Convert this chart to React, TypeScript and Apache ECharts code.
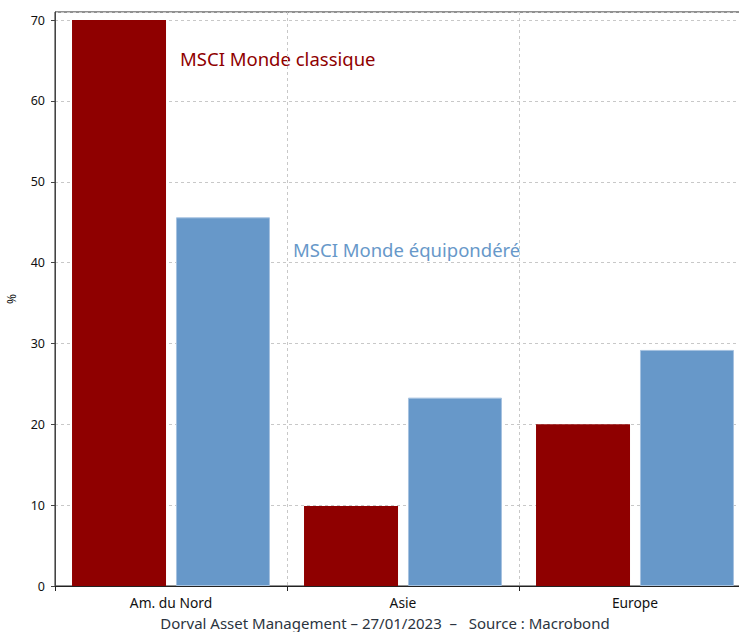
import React, { useEffect, useRef } from "react";
import * as echarts from "echarts";

const categories = ["Am. du Nord", "Asie", "Europe"];
const classiqueValues = [70.0, 9.9, 20.0];
const equiponderValues = [45.6, 23.3, 29.2];
const seriesNames = ["MSCI Monde classique", "MSCI Monde équipondéré"];
const footerText = "Dorval Asset Management – 27/01/2023  –   Source : Macrobond";

export default function App() {
  const ref = useRef<HTMLDivElement>(null);
  useEffect(() => {
    if (!ref.current) return;
    const chart = echarts.init(ref.current, null, { renderer: "svg" });
    const font = "Noto Sans";
    chart.setOption({
      animation: false,
      backgroundColor: "#ffffff",
      textStyle: { fontFamily: font },
      grid: {
        left: 55,
        top: 12,
        height: 574,
        width: 696,
        outerBoundsMode: "none",
        containLabel: false,
        show: true,
        borderColor: "#222",
        borderWidth: 1,
      },
      xAxis: {
        type: "category",
        data: categories,
        boundaryGap: true,
        axisLine: { lineStyle: { color: "#222", width: 1 } },
        axisTick: { show: true, length: 5, lineStyle: { color: "#222" } },
        axisLabel: { color: "#111", fontSize: 13.8, margin: 9, fontFamily: font },
        splitLine: { show: true, lineStyle: { color: "#c8c8c8", type: [3, 3] } },
      },
      yAxis: {
        type: "value",
        min: 0,
        max: 71,
        interval: 10,
        name: "%",
        nameLocation: "middle",
        nameGap: 38,
        nameRotate: 90,
        nameTextStyle: { color: "#111", fontSize: 12, fontFamily: font },
        axisLine: { show: true, lineStyle: { color: "#444", width: 1 } },
        axisTick: { show: true, length: 4, lineStyle: { color: "#444" } },
        axisLabel: { color: "#111", fontSize: 12.5, margin: 10, showMaxLabel: false, fontFamily: font },
        splitLine: { show: true, lineStyle: { color: "#c8c8c8", type: [3, 3] } },
      },
      series: [
        {
          name: seriesNames[0],
          type: "bar",
          data: classiqueValues,
          barWidth: 94,
          barGap: "10.6%",
          itemStyle: { color: "#8f0000" },
        },
        {
          name: seriesNames[1],
          type: "bar",
          data: equiponderValues,
          barWidth: 94,
          barGap: "10.6%",
          itemStyle: { color: "#6798c9", borderColor: "#a6c2e0", borderWidth: 1 },
        },
      ],
      graphic: [
        {
          type: "text",
          x: 180,
          y: 58,
          style: { text: seriesNames[0], fill: "#8f0000", fontSize: 18.5, fontFamily: font, verticalAlign: "middle" },
        },
        {
          type: "text",
          x: 293,
          y: 249,
          style: { text: seriesNames[1], fill: "#6798c9", fontSize: 18.5, fontFamily: font, verticalAlign: "middle" },
        },
        {
          type: "text",
          x: 385,
          y: 623,
          style: {
            text: footerText,
            fill: "#2b3440",
            fontSize: 15,
            fontFamily: font,
            align: "center",
            verticalAlign: "middle",
          },
        },
      ],
    });
    return () => chart.dispose();
  }, []);
  return (
    <div
      ref={ref}
      style={{ position: "fixed", left: 0, top: 0, width: 739, height: 632, background: "#fff" }}
    />
  );
}
